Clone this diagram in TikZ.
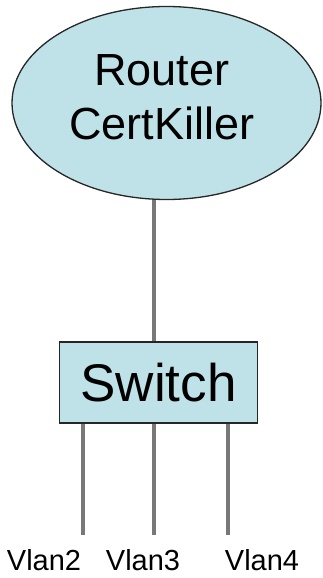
\documentclass[tikz,border=0pt]{standalone}
\usepackage{fontspec}
\setmainfont{Liberation Sans}
\usetikzlibrary{shapes.geometric}
\definecolor{devfill}{RGB}{190,226,231}
\definecolor{wire}{RGB}{120,120,120}
\begin{document}
\begin{tikzpicture}[x=1pt,y=-1pt,
  dev/.style={draw=black!85,fill=devfill,line width=1.3pt,inner sep=0pt},
  link/.style={draw=wire,line width=3.4pt},
  vlan/.style={font=\fontsize{29}{31}\selectfont,anchor=base}]
\useasboundingbox (0,0) rectangle (323,578);
% router and switch
\node[dev,ellipse,minimum width=309pt,minimum height=193pt] (router) at (166.5,103) {};
\node[font=\fontsize{45}{54}\selectfont,align=center,yshift=6pt] (routertext) at (162,103) {Router\\CertKiller};
\node[dev,rectangle,minimum width=198pt,minimum height=81pt] (switch) at (158.5,382.5) {};
\node[font=\fontsize{53}{56}\selectfont] (switchtext) at (switch.center) {Switch};
% vlans
\foreach \x/\n/\lx in {83/2/44,154/3/143,228/4/262}{
  \coordinate (end\n) at (\x,535);
  \node[vlan] (vlan\n) at (\lx,570) {Vlan\n};
  \draw[link] (switch.south -| end\n) -- (end\n);
}
\draw[link] (router.south -| end3) -- (switch.north -| end3);
\end{tikzpicture}
\end{document}
